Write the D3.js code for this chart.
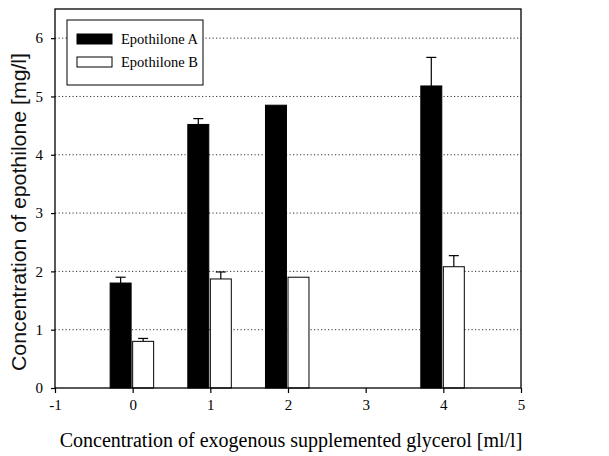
<!DOCTYPE html>
<html>
<head>
<meta charset="utf-8">
<script src="https://cdn.jsdelivr.net/npm/d3@7"></script>
<style>
  body { margin: 0; background: #fff; }
  text { font-family: "Liberation Serif", "DejaVu Serif", serif; }
</style>
</head>
<body>
<svg id="chart" width="609" height="456"></svg>
<script>
// glycerol concentration (ml/l)
const glycerol = [0, 1, 2, 4];
const epoA = [1.8, 4.52, 4.85, 5.18];
const epoAErr = [0.1, 0.1, 0, 0.49];
const epoB = [0.8, 1.87, 1.9, 2.08];
const epoBErr = [0.05, 0.12, 0, 0.19];
const xTicks = [-1, 0, 1, 2, 3, 4, 5];
const yTicks = [0, 1, 2, 3, 4, 5, 6];

const FONT = "Liberation Serif, DejaVu Serif, serif";

const margin = { top: 9, right: 88, bottom: 68, left: 55 };
const width = 609 - margin.left - margin.right;
const height = 456 - margin.top - margin.bottom;

const svg = d3.select("#chart").attr("font-family", FONT);
const g = svg.append("g").attr("transform", `translate(${margin.left},${margin.top})`);

const x = d3.scaleLinear().domain([-1, 5]).range([0, width]);
const y = d3.scaleLinear().domain([0, 6.5]).range([height, 0]);

// dotted grid
g.selectAll(".grid")
  .data(yTicks.filter(d => d > 0))
  .enter()
  .append("line")
  .attr("class", "grid")
  .attr("x1", 0)
  .attr("x2", width)
  .attr("y1", d => y(d))
  .attr("y2", d => y(d))
  .attr("stroke", "#333")
  .attr("stroke-width", 1)
  .attr("stroke-dasharray", "1.2,2.3");

const barW = x(0.27) - x(0);
const gap = x(0.02) - x(0);

const series = [
  { vals: epoA, err: epoAErr, fill: "#000", off: -barW - gap },
  { vals: epoB, err: epoBErr, fill: "#fff", off: 0 }
];

series.forEach(s => {
  const grp = g.append("g");
  grp.selectAll("rect")
    .data(glycerol)
    .enter()
    .append("rect")
    .attr("x", d => x(d) + s.off)
    .attr("y", (d, i) => y(s.vals[i]))
    .attr("width", barW)
    .attr("height", (d, i) => height - y(s.vals[i]))
    .attr("fill", s.fill)
    .attr("stroke", "#000")
    .attr("stroke-width", 1);

  // error bars (upper only)
  glycerol.forEach((d, i) => {
    if (!s.err[i]) return;
    const cx = x(d) + s.off + barW / 2;
    grp.append("line")
      .attr("x1", cx).attr("x2", cx)
      .attr("y1", y(s.vals[i])).attr("y2", y(s.vals[i] + s.err[i]))
      .attr("stroke", "#000").attr("stroke-width", 1.2);
    grp.append("line")
      .attr("x1", cx - 5).attr("x2", cx + 5)
      .attr("y1", y(s.vals[i] + s.err[i])).attr("y2", y(s.vals[i] + s.err[i]))
      .attr("stroke", "#000").attr("stroke-width", 1.2);
  });
});

// frame
g.append("rect")
  .attr("width", width)
  .attr("height", height)
  .attr("fill", "none")
  .attr("stroke", "#000")
  .attr("stroke-width", 1.3);

// axes
const xAxis = g.append("g")
  .attr("transform", `translate(0,${height})`)
  .call(d3.axisBottom(x).tickValues(xTicks).tickFormat(d => String(d)).tickSize(5).tickPadding(6));
const yAxis = g.append("g")
  .call(d3.axisLeft(y).tickValues(yTicks).tickFormat(d => String(d)).tickSize(4).tickPadding(8));

[xAxis, yAxis].forEach(a => {
  a.attr("font-family", FONT);
  a.select(".domain").remove();
  a.selectAll("text").attr("font-size", 15).attr("fill", "#000");
  a.selectAll("line").attr("stroke", "#000").attr("stroke-width", 1.2);
});

// axis titles
svg.append("text")
  .attr("x", 291)
  .attr("y", 447)
  .attr("text-anchor", "middle")
  .attr("font-size", 20)
  .text("Concentration of exogenous supplemented glycerol [ml/l]");

// y title is a condensed sans in the original
svg.append("text")
  .attr("transform", `translate(26,212) rotate(-90)`)
  .attr("text-anchor", "middle")
  .style("font-family", "'Liberation Sans Narrow', 'Liberation Sans', sans-serif")
  .attr("font-size", 20)
  .attr("fill", "#111")
  .attr("textLength", 318)
  .attr("lengthAdjust", "spacingAndGlyphs")
  .text("Concentration of epothilone [mg/l]");

// legend
const legend = svg.append("g").attr("transform", "translate(67,20)");
legend.append("rect")
  .attr("width", 136)
  .attr("height", 65)
  .attr("fill", "#fff")
  .attr("stroke", "#000")
  .attr("stroke-width", 1);

const legendItems = [
  { label: "Epothilone A", fill: "#000" },
  { label: "Epothilone B", fill: "#fff" }
];
const li = legend.selectAll(".li")
  .data(legendItems)
  .enter()
  .append("g")
  .attr("transform", (d, i) => `translate(10,${19 + i * 23})`);
li.append("rect")
  .attr("y", -5)
  .attr("width", 35)
  .attr("height", 10)
  .attr("fill", d => d.fill)
  .attr("stroke", "#000")
  .attr("stroke-width", 1);
li.append("text")
  .attr("x", 44)
  .attr("y", 5)
  .attr("font-size", 14.5)
  .text(d => d.label);
</script>
</body>
</html>
